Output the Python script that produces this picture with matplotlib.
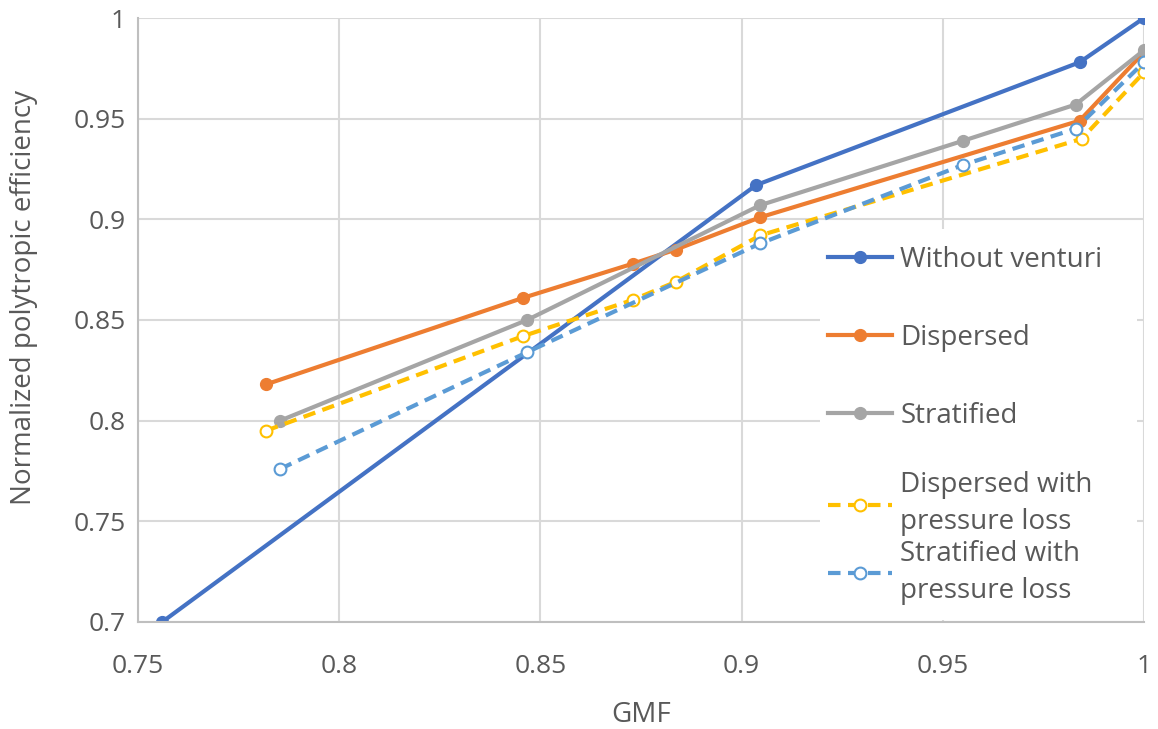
import matplotlib.pyplot as plt
from matplotlib.patches import Rectangle

plt.rcParams['font.family'] = ['Open Sans', 'DejaVu Sans']

# GMF / normalized polytropic efficiency
gmf_wv = [0.756, 0.9036, 0.984, 1.0]
eff_wv = [0.700, 0.917, 0.978, 1.0]

gmf_disp = [0.7818, 0.8457, 0.873, 0.8837, 0.9046, 0.984, 1.0]
eff_disp = [0.818, 0.861, 0.878, 0.885, 0.901, 0.949, 0.983]

gmf_strat = [0.7853, 0.8467, 0.9046, 0.9550, 0.9830, 1.0]
eff_strat = [0.800, 0.850, 0.907, 0.939, 0.957, 0.984]

gmf_disp_pl = [0.7818, 0.8457, 0.873, 0.8837, 0.9046, 0.9845, 1.0]
eff_disp_pl = [0.795, 0.842, 0.860, 0.869, 0.892, 0.940, 0.973]

gmf_strat_pl = [0.7853, 0.8467, 0.9046, 0.9550, 0.9830, 1.0]
eff_strat_pl = [0.776, 0.834, 0.888, 0.927, 0.945, 0.978]

labels = ['Without venturi', 'Dispersed', 'Stratified',
          'Dispersed with\npressure loss', 'Stratified with\npressure loss']

fig = plt.figure(figsize=(11.58, 7.29), dpi=100)
ax = fig.add_axes([0.1192, 0.1468, 0.8687, 0.8285])

lw = 3
l1, = ax.plot(gmf_wv, eff_wv, '-o', color='#4472C4', lw=lw, ms=8.5, label=labels[0])
l2, = ax.plot(gmf_disp, eff_disp, '-o', color='#ED7D31', lw=lw, ms=8.5, label=labels[1])
l3, = ax.plot(gmf_strat, eff_strat, '-o', color='#A5A5A5', lw=lw, ms=8.5, label=labels[2])
l4, = ax.plot(gmf_disp_pl, eff_disp_pl, '--o', color='#FFC000', lw=lw, ms=8.5,
              mfc='white', mew=1.5, dashes=(3, 1.8), label=labels[3])
l5, = ax.plot(gmf_strat_pl, eff_strat_pl, '--o', color='#5B9BD5', lw=lw, ms=8.5,
              mfc='white', mew=1.5, dashes=(3, 1.8), label=labels[4])

ax.set_xlim(0.75, 1.0)
ax.set_ylim(0.7, 1.0)
ax.set_xticks([0.75, 0.8, 0.85, 0.9, 0.95, 1.0])
ax.set_xticklabels(['0.75', '0.8', '0.85', '0.9', '0.95', '1'])
ax.set_yticks([0.7, 0.75, 0.8, 0.85, 0.9, 0.95, 1.0])
ax.set_yticklabels(['0.7', '0.75', '0.8', '0.85', '0.9', '0.95', '1'])

ax.grid(True, color='#D9D9D9', lw=1.5)
ax.set_axisbelow(True)
for s in ['top', 'right']:
    ax.spines[s].set_visible(False)
for s in ['left', 'bottom']:
    ax.spines[s].set_color('#BFBFBF')
    ax.spines[s].set_linewidth(1.5)
ax.tick_params(axis='both', length=0, labelsize=19, labelcolor='#595959')
ax.tick_params(axis='y', pad=9)
ax.tick_params(axis='x', pad=23)

ax.set_xlabel('GMF', fontsize=20, color='#595959', labelpad=16)
ax.set_ylabel('Normalized polytropic efficiency', fontsize=20, color='#595959')
ax.yaxis.set_label_coords(-0.099, 0.538)

# white legend area
ax.add_patch(Rectangle((0.678, 0.004), 0.315, 0.646, transform=ax.transAxes,
                       facecolor='white', edgecolor='none', zorder=1.5))

common = dict(loc='upper left', bbox_transform=fig.transFigure, fontsize=20,
              frameon=False, handlelength=2.3, handletextpad=0.3, borderpad=0,
              borderaxespad=0)
leg1 = ax.legend([l1, l2, l3], labels[:3], bbox_to_anchor=(828 / 1158, 1 - 246 / 729),
                 labelspacing=1.8, **common)
ax.add_artist(leg1)
leg2 = ax.legend([l4, l5], labels[3:], bbox_to_anchor=(828 / 1158, 1 - 471 / 729),
                 labelspacing=0.12, **common)
for t in leg2.get_texts():
    t.set_linespacing(1.45)
for lg in (leg1, leg2):
    lg.set_zorder(5)
    for t in lg.get_texts():
        t.set_color('#595959')

fig.savefig('out.png', dpi=100)
